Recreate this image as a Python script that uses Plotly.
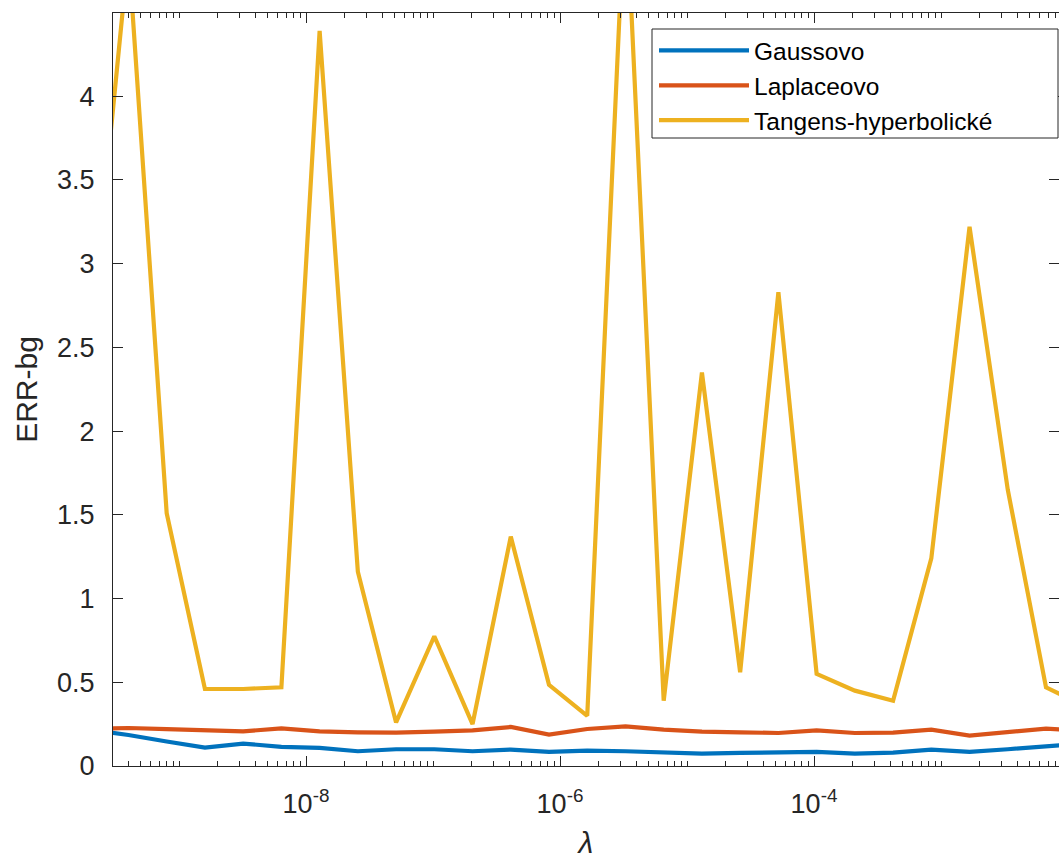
import plotly.graph_objects as go

# lambda grid (x values)
lambdas = [2e-10, 4e-10, 8e-10, 1.6e-9, 3.2e-9, 6.4e-9, 1.28e-8, 2.56e-8, 5.12e-8,
           1.024e-7, 2.048e-7, 4.096e-7, 8.192e-7, 1.6384e-6, 3.2768e-6, 6.5536e-6,
           1.31072e-5, 2.62144e-5, 5.24288e-5, 1.048576e-4, 2.097152e-4, 4.194304e-4,
           8.388608e-4, 1.6777216e-3, 3.3554432e-3, 6.7108864e-3, 1.34217728e-2]

series_names = ["Gaussovo", "Laplaceovo", "Tangens-hyperbolické"]

gauss = [0.215, 0.185, 0.146, 0.110, 0.134, 0.114, 0.108, 0.088, 0.100, 0.100, 0.088,
         0.098, 0.084, 0.092, 0.088, 0.082, 0.074, 0.078, 0.078, 0.084, 0.074, 0.080,
         0.098, 0.084, 0.100, 0.118, 0.135]
laplace = [0.222, 0.227, 0.220, 0.213, 0.207, 0.225, 0.207, 0.201, 0.199, 0.205, 0.213,
           0.233, 0.188, 0.221, 0.237, 0.217, 0.205, 0.201, 0.197, 0.213, 0.197, 0.199,
           0.217, 0.182, 0.203, 0.223, 0.210]
tanh = [2.54, 4.86, 1.51, 0.46, 0.46, 0.47, 4.39, 1.16, 0.26, 0.775, 0.25, 1.37, 0.485,
        0.30, 5.26, 0.39, 2.35, 0.56, 2.83, 0.55, 0.45, 0.39, 1.24, 3.22, 1.65, 0.47, 0.36]

colors = ["#0072BD", "#D95319", "#EDB120"]

x_major = [1e-8, 1e-6, 1e-4]
x_major_text = ["10<sup>-8</sup>", "10<sup>-6</sup>", "10<sup>-4</sup>"]
y_ticks = [0, 0.5, 1, 1.5, 2, 2.5, 3, 3.5, 4]
y_tick_text = ["0", "0.5", "1", "1.5", "2", "2.5", "3", "3.5", "4"]

minor_vals = [m * 10.0 ** e for e in range(-11, 0) for m in range(1, 10)
              if not (m == 1 and e in (-8, -6, -4))]

FONT = "Liberation Sans, Arial, Helvetica, sans-serif"
AX = "#262626"

W, H = 1059, 859
ML, MR, MT, MB = 113, 0, 13, 93
PW, PH = W - ML - MR, H - MT - MB

fig = go.Figure()
for name, ys, c in zip(series_names, [gauss, laplace, tanh], colors):
    fig.add_trace(go.Scatter(x=lambdas, y=ys, mode="lines", name=name,
                             line=dict(color=c, width=4.2)))

# legend frame (MATLAB-style box)
lx0, lx1, ly0, ly1 = 652, 1058, 29, 138
fig.add_shape(type="rect", xref="paper", yref="paper", layer="above",
              x0=(lx0 - ML) / PW, x1=(lx1 - ML) / PW,
              y0=(H - MB - ly1) / PH, y1=(H - MB - ly0) / PH,
              line=dict(color=AX, width=1), fillcolor="white")

fig.update_layout(
    width=W, height=H,
    margin=dict(l=ML, r=MR, t=MT, b=MB, autoexpand=False),
    paper_bgcolor="white", plot_bgcolor="white",
    font=dict(family=FONT, color=AX),
    showlegend=True,
    legend=dict(x=(lx0 + 2 - ML) / PW, xanchor="left",
                y=(H - MB - 28) / PH, yanchor="top",
                bgcolor="rgba(0,0,0,0)", borderwidth=0,
                font=dict(family=FONT, size=24.5, color="black"),
                itemwidth=90, tracegroupgap=0),
)

fig.update_xaxes(
    type="log", range=[-9.5197, -2.0709], automargin=False,
    tickmode="array", tickvals=x_major, ticktext=x_major_text,
    ticks="inside", ticklen=10, tickwidth=1, tickcolor=AX,
    showline=True, linecolor=AX, linewidth=1, mirror="ticks",
    showgrid=False, zeroline=False,
    tickfont=dict(family=FONT, size=27, color=AX),
    ticklabelstandoff=14,
    minor=dict(tickmode="array", tickvals=minor_vals, ticks="inside", ticklen=5,
               tickwidth=1, tickcolor=AX, showgrid=False),
    title=dict(text="<i>λ</i>", font=dict(family=FONT, size=30, color=AX), standoff=21),
)
fig.update_yaxes(
    range=[0, 4.497], automargin=False,
    tickmode="array", tickvals=y_ticks, ticktext=y_tick_text,
    ticks="inside", ticklen=10, tickwidth=1, tickcolor=AX,
    showline=True, linecolor=AX, linewidth=1, mirror="ticks",
    showgrid=False, zeroline=False,
    tickfont=dict(family=FONT, size=27, color=AX),
    ticklabelstandoff=12,
    title=dict(text="ERR-bg", font=dict(family=FONT, size=30, color=AX), standoff=10),
)

fig.write_html("out.html", config={"displayModeBar": False},
               post_script="document.body.style.margin='0';document.body.style.overflow='hidden';")
